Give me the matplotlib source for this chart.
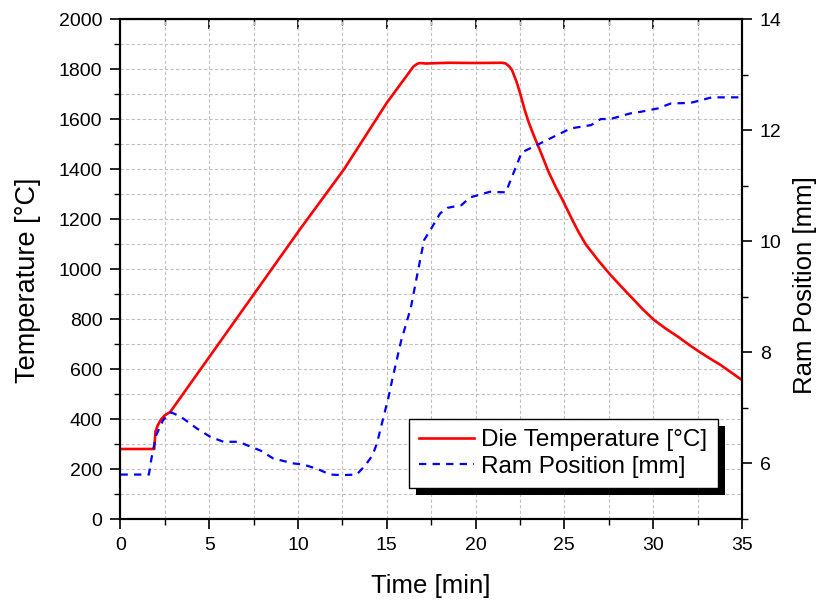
import matplotlib.pyplot as plt
from matplotlib.patches import Rectangle
from matplotlib.ticker import MultipleLocator
from matplotlib.transforms import IdentityTransform

plt.rcParams['font.family'] = ['Liberation Sans', 'DejaVu Sans']

# die temperature [°C] vs time [min]
time_temp = [0, 1.9, 1.97, 2.1, 2.3, 2.5, 2.8, 4.5, 7.5, 10.1, 12.6, 15.0, 16.5, 16.7,
             16.85, 17.2, 18.5, 20.0, 21.5, 21.7, 21.9, 22.05, 22.3, 22.5, 22.75, 23.0,
             23.3, 23.55, 23.85, 24.1, 24.5, 24.9, 25.45, 25.8, 26.2, 26.9, 27.6, 28.2,
             28.75, 29.4, 30.05, 30.7, 31.4, 32.0, 32.6, 33.2, 33.8, 34.4, 35.0]
temp = [280, 280, 350, 375, 400, 415, 428, 598, 898, 1158, 1400, 1665, 1810, 1820,
        1824, 1822, 1825, 1824, 1825, 1822, 1810, 1796, 1750, 1705, 1640, 1585,
        1530, 1488, 1435, 1390, 1330, 1276, 1196, 1148, 1099, 1035, 976, 930,
        889, 840, 796, 762, 729, 698, 669, 642, 616, 586, 556]

# ram position [mm] vs time [min]
time_ram = [0, 1.6, 1.75, 2.0, 2.4, 2.85, 3.4, 4.3, 5.05, 5.8, 6.65, 7.5, 7.9, 8.6,
            9.75, 10.3, 11.1, 11.8, 12.5, 13.3, 13.8, 14.2, 14.45, 15.1, 15.3, 15.8,
            16.35, 16.8, 17.1, 17.45, 18.0, 18.4, 19.2, 19.7, 20.8, 21.7, 22.05, 22.6,
            23.45, 24.2, 25.35, 26.5, 27.05, 27.6, 28.7, 29.3, 30.25, 31.0, 32.1, 33.3,
            35.0]
ram = [5.8, 5.8, 6.1, 6.5, 6.78, 6.92, 6.84, 6.63, 6.48, 6.39, 6.39, 6.28, 6.23, 6.09,
       6.0, 5.98, 5.9, 5.8, 5.79, 5.8, 5.97, 6.15, 6.37, 7.2, 7.5, 8.2,
       8.8, 9.54, 10.02, 10.2, 10.5, 10.6, 10.65, 10.79, 10.89, 10.88, 11.16, 11.6,
       11.73, 11.85, 12.03, 12.09, 12.2, 12.2, 12.3, 12.33, 12.39, 12.48, 12.49, 12.59,
       12.59]

fig = plt.figure(figsize=(8.18, 6), dpi=100)
ax = fig.add_axes([0.1473, 0.135, 0.7597, 0.8333])
ax2 = ax.twinx()

l1, = ax.plot(time_temp, temp, color='red', lw=1.9, label='Die Temperature [°C]')
l2, = ax2.plot(time_ram, ram, color='blue', lw=1.6, linestyle=(0, (3.3, 2.8)),
               label='Ram Position [mm]')

ax.set_xlim(0, 35)
ax.set_ylim(0, 2000)
ax2.set_ylim(5, 14)

ax.xaxis.set_major_locator(MultipleLocator(5))
ax.xaxis.set_minor_locator(MultipleLocator(2.5))
ax.yaxis.set_major_locator(MultipleLocator(200))
ax.yaxis.set_minor_locator(MultipleLocator(100))
ax2.yaxis.set_minor_locator(MultipleLocator(1))
ax2.set_yticks([6, 8, 10, 12, 14])

ax.grid(True, which='both', linestyle=(0, (3, 2)), color='#c0c0c0', lw=0.8)

ax.tick_params(which='major', direction='out', length=7, width=1.2, labelsize=14, pad=6)
ax.tick_params(which='minor', direction='out', length=4, width=1.0)
ax2.tick_params(which='major', direction='out', length=7, width=1.2, labelsize=14, pad=6)
ax2.tick_params(which='minor', direction='out', length=4, width=1.0)

top = ax.secondary_xaxis('top')
top.xaxis.set_major_locator(MultipleLocator(5))
top.xaxis.set_minor_locator(MultipleLocator(2.5))
top.tick_params(which='major', direction='in', length=7, width=1.2, labeltop=False)
top.tick_params(which='minor', direction='in', length=4, width=1.0)

for a in (ax, ax2):
    for s in a.spines.values():
        s.set_linewidth(1.5)

ax.set_xlabel('Time [min]', fontsize=18.5, labelpad=14)
ax.set_ylabel('Temperature [°C]', fontsize=19.5)
ax2.set_ylabel('Ram Position [mm]', fontsize=18.5)
ax.yaxis.set_label_coords(-0.128, 0.478)
ax2.yaxis.set_label_coords(1.082, 0.468)

leg = ax2.legend([l1, l2], [l1.get_label(), l2.get_label()], loc='lower right',
                 bbox_to_anchor=(0.961, 0.062), borderaxespad=0, fontsize=17.5,
                 fancybox=False, framealpha=1, edgecolor='black',
                 handlelength=2.25, handletextpad=0.3, labelspacing=0.18,
                 borderpad=0.42)
leg.get_frame().set_linewidth(1.0)
leg.set_zorder(6)

# solid black drop shadow behind the legend box
fig.canvas.draw()
bb = leg.get_window_extent()
ax2.add_patch(Rectangle((bb.x0 + 7, bb.y0 - 7), bb.width, bb.height,
                        transform=IdentityTransform(), facecolor='black',
                        edgecolor='none', zorder=5, clip_on=False))

fig.savefig('out.png', dpi=100)
